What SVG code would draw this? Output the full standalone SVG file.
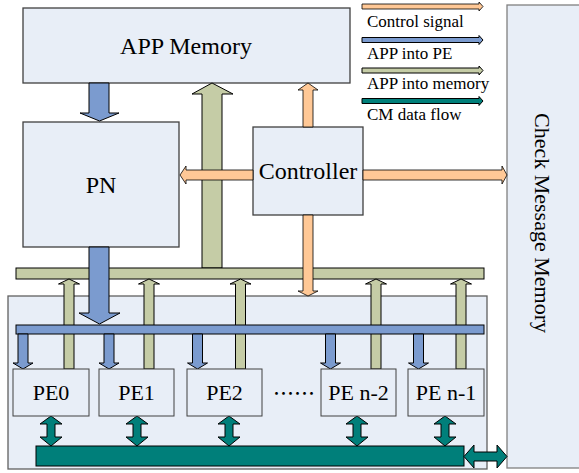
<svg xmlns="http://www.w3.org/2000/svg" width="579" height="473" viewBox="0 0 579 473">
<style>
.box{fill:#E8EEF7;stroke:#404040;stroke-width:1.3}
.pe{fill:#E8EEF7;stroke:#404040;stroke-width:1}
.t{font-family:"Liberation Serif","Times New Roman",serif;fill:#000;text-anchor:middle}
.lg{font-family:"Liberation Serif","Times New Roman",serif;font-size:17px;fill:#000}
.bl{fill:#7B9BCF;stroke:#000;stroke-width:1}
.gr{fill:#C5CCA6;stroke:#000;stroke-width:1}
.or{fill:#FFC896;stroke:#000;stroke-width:0.8}
.tl{fill:#007F7A;stroke:#000;stroke-width:1}
</style>
<rect width="579" height="473" fill="#fff"/>
<g id="app-memory"><rect class="box" x="23" y="8" width="327" height="75"/><text class="t" x="186" y="54" font-size="24">APP Memory</text></g>
<g id="pn"><rect class="box" x="23" y="122" width="156" height="125"/><text class="t" x="101" y="193" font-size="24">PN</text></g>
<g id="cmm"><rect class="box" x="507" y="5" width="75" height="463" style="stroke:#808080"/><text class="t" font-size="22" transform="translate(535,223) rotate(90)">Check Message Memory</text></g>
<g id="pe-array"><rect class="box" x="8" y="296" width="479" height="173" style="stroke:#606060"/></g>
<g id="controller"><rect class="box" x="253" y="127" width="110" height="88"/><text class="t" x="308" y="179" font-size="24">Controller</text></g>
<g id="connectors">
<path class="gr" d="M202 268L202 94L192 94L212 83L233 94L222 94L222 268Z"/>
<rect class="gr" x="16" y="268" width="468" height="11"/>
<path class="gr" d="M64 369L64 284L58.5 284L69 279L79.5 284L74 284L74 369Z"/>
<path class="gr" d="M144 369L144 284L138.5 284L149 279L159.5 284L154 284L154 369Z"/>
<path class="gr" d="M235.5 369L235.5 284L230 284L240.5 279L251 284L245.5 284L245.5 369Z"/>
<path class="gr" d="M371 369L371 284L365.5 284L376 279L386.5 284L381 284L381 369Z"/>
<path class="gr" d="M456 369L456 284L450.5 284L461 279L471.5 284L466 284L466 369Z"/>
<rect class="bl" x="16" y="325" width="468" height="9"/>
<path class="bl" d="M18 334L18 363L13 363L23 369L33 363L28 363L28 334Z"/>
<path class="bl" d="M104 334L104 363L99 363L109 369L119 363L114 363L114 334Z"/>
<path class="bl" d="M192.5 334L192.5 363L187.5 363L197.5 369L207.5 363L202.5 363L202.5 334Z"/>
<path class="bl" d="M325.5 334L325.5 363L320.5 363L330.5 369L340.5 363L335.5 363L335.5 334Z"/>
<path class="bl" d="M413.5 334L413.5 363L408.5 363L418.5 369L428.5 363L423.5 363L423.5 334Z"/>
<path class="bl" d="M89 83L89 113L80 113L99.5 121L119 113L109 113L109 83Z"/>
<path class="bl" d="M89 247L89 313L79 313L99.5 324L120 313L109 313L109 247Z"/>
<path class="or" d="M303 127L303 90L298 90L308 83L318 90L313 90L313 127Z"/>
<path class="or" d="M303 215L303 291L298 291L308 296L318 291L313 291L313 215Z"/>
<path class="or" d="M253 170L186 170L186 166L180 175L186 184L186 180L253 180Z"/>
<path class="or" d="M363 170L502 170L502 166L507 175L502 184L502 180L363 180Z"/>
<rect class="tl" x="36" y="446" width="428" height="20"/>
<path class="tl" d="M51 416L62 424L55 424L55 437L62 437L51 446L40 437L47 437L47 424L40 424Z"/>
<path class="tl" d="M137 416L148 424L141 424L141 437L148 437L137 446L126 437L133 437L133 424L126 424Z"/>
<path class="tl" d="M229 416L240 424L233 424L233 437L240 437L229 446L218 437L225 437L225 424L218 424Z"/>
<path class="tl" d="M357 416L368 424L361 424L361 437L368 437L357 446L346 437L353 437L353 424L346 424Z"/>
<path class="tl" d="M445 416L456 424L449 424L449 437L456 437L445 446L434 437L441 437L441 424L434 424Z"/>
<path class="tl" d="M464 456.5L474 445L474 452L497 452L497 445L507 456.5L497 468L497 461L474 461L474 468Z"/>
</g>
<g id="pe0"><rect class="pe" x="13" y="369" width="76" height="47"/><text class="t" x="51" y="400" font-size="22">PE0</text></g>
<g id="pe1"><rect class="pe" x="99" y="369" width="75" height="47"/><text class="t" x="136.5" y="400" font-size="22">PE1</text></g>
<g id="pe2"><rect class="pe" x="187" y="369" width="75" height="47"/><text class="t" x="224.5" y="400" font-size="22">PE2</text></g>
<g id="pe-dots"><text x="294" y="401" font-size="21" text-anchor="middle" font-family="'Noto Sans CJK SC',sans-serif">……</text></g>
<g id="pe-n-2"><rect class="pe" x="321" y="369" width="75" height="47"/><text class="t" x="358.5" y="400" font-size="22">PE n-2</text></g>
<g id="pe-n-1"><rect class="pe" x="408" y="369" width="76" height="47"/><text class="t" x="446" y="400" font-size="22">PE n-1</text></g>
<g id="legend">
<path class="or" d="M362 4L479 4L479 2L483 6.5L479 11L479 9L362 9Z"/>
<text class="lg" x="367" y="27">Control signal</text>
<path class="bl" d="M362 37.5L479 37.5L479 35.5L483 40L479 44.5L479 42.5L362 42.5Z"/>
<text class="lg" x="367" y="59">APP into PE</text>
<path class="gr" d="M362 68L479 68L479 66L483 70.5L479 75L479 73L362 73Z"/>
<text class="lg" x="367" y="89">APP into memory</text>
<path class="tl" d="M362 98.5L479 98.5L479 96.5L483 101L479 105.5L479 103.5L362 103.5Z"/>
<text class="lg" x="367" y="120">CM data flow</text>
</g>
</svg>
